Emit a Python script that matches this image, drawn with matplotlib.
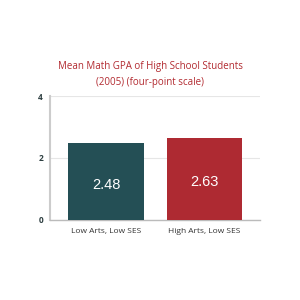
import matplotlib.pyplot as plt

categories = ["Low Arts, Low SES", "High Arts, Low SES"]
values = [2.48, 2.63]
labels = ["2.48", "2.63"]
colors = ["#244f55", "#ae2a32"]
yticks = [0, 2, 4]

fig = plt.figure(figsize=(3, 3), dpi=100)
ax = fig.add_axes([0.1667, 0.2667, 0.70, 0.4133])

x = [0, 1]
bars = ax.bar(x, values, width=0.77, color=colors, zorder=3)
for xi, v, lab in zip(x, values, labels):
    ax.text(xi, v / 2 - 0.1, lab, ha="center", va="center", color="white",
            fontsize=10.5, family="Liberation Sans", zorder=4)

ax.set_xlim(-0.57, 1.565)
ax.set_ylim(0, 4)
ax.set_yticks(yticks)
ax.set_yticklabels([str(t) for t in yticks], fontsize=6, family="Open Sans",
                   color="#2d3e40", fontweight="bold")
ax.set_xticks(x)
ax.set_xticklabels(categories, fontsize=6, family="Open Sans", color="#333333")
ax.tick_params(axis="both", length=0, pad=5)
ax.tick_params(axis="x", pad=6)
ax.grid(axis="y", color="#e6e6e6", linewidth=0.8, zorder=0)
for s in ["top", "right"]:
    ax.spines[s].set_visible(False)
ax.spines["left"].set_color("#cccccc")
ax.spines["left"].set_linewidth(1.5)
ax.spines["bottom"].set_color("#bbbbbb")
ax.spines["bottom"].set_linewidth(1.0)

fig.text(0.5, 0.753, "Mean Math GPA of High School Students\n(2005) (four-point scale)",
         ha="center", va="center", color="#b22a30", fontsize=7,
         family="Open Sans", linespacing=1.6)

fig.savefig("out.png", dpi=100, facecolor="white")
